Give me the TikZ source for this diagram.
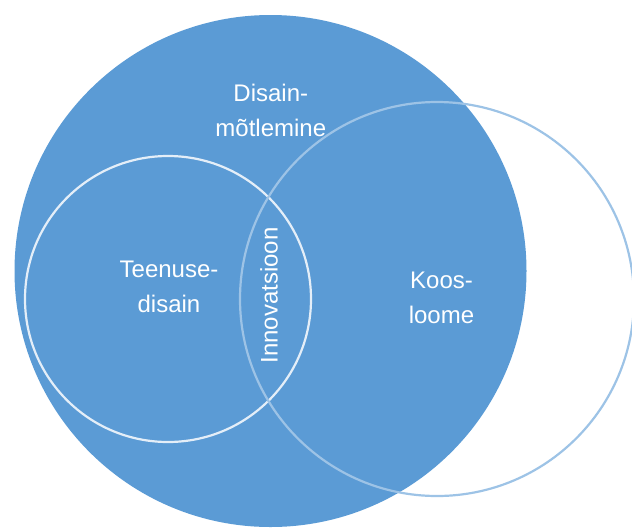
\documentclass[tikz,border=0pt]{standalone}
\usepackage{fontspec}
\setmainfont{Liberation Sans}
\definecolor{fillblue}{HTML}{5B9BD5}
\definecolor{ringblue}{HTML}{9DC3E6}
\definecolor{ringwhite}{HTML}{E4EEF8}
\begin{document}
\begin{tikzpicture}[x=1pt,y=-1pt,
  bigset/.style={circle,inner sep=0pt,outer sep=0pt,fill=fillblue,minimum size=512pt},
  innerset/.style={circle,inner sep=0pt,outer sep=0pt,draw=ringwhite,line width=2.2pt,minimum size=286pt},
  rightset/.style={circle,inner sep=0pt,outer sep=0pt,draw=ringblue,line width=2.2pt,minimum size=394pt},
  lbl/.style={text=white,align=center,inner sep=0pt,font=\fontsize{24}{35}\selectfont}]
\useasboundingbox (0,0) rectangle (632,528);
\node[bigset] (big) at (270.5,271) {};
\node[innerset] (serv) at (168,299) {};
\node[rightset] (co) at (437,299) {};
\node[lbl] (tdm) at (270.8,110.5) {Disain-\\mõtlemine};
\node[lbl] (tsd) at (169,286.5) {Teenuse-\\disain};
\node[lbl] (tko) at (441.5,297.5) {Koos-\\loome};
\node[lbl,rotate=90] (tin) at (269,295.5) {Innovatsioon};
\end{tikzpicture}
\end{document}
